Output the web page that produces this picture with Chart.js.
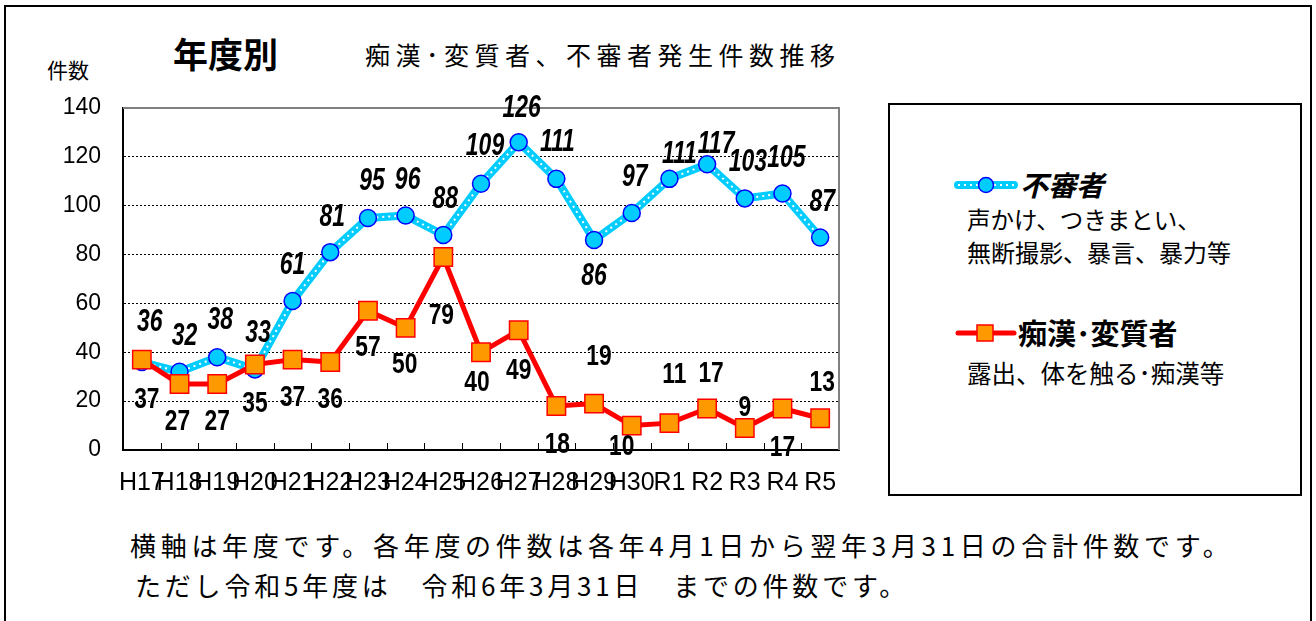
<!DOCTYPE html>
<html lang="ja">
<head>
<meta charset="utf-8">
<script src="https://cdn.jsdelivr.net/npm/chart.js@4.4.1/dist/chart.umd.min.js"></script>
<style>
  body { margin: 0; background: #fff; width: 1316px; height: 621px; overflow: hidden; position: relative;
         font-family: "Noto Sans CJK JP", sans-serif; color: #000; }
  .frame { position: absolute; left: 4px; top: 5px; width: 1308px; height: 700px; border: 2px solid #000; box-sizing: border-box; }
  .txt { position: absolute; white-space: nowrap; line-height: 1; }
  #wrap { position: absolute; left: 0; top: 0; width: 860px; height: 520px; }
  .legend { position: absolute; left: 888px; top: 103px; width: 414px; height: 393px; border: 2px solid #000; box-sizing: border-box; }
</style>
</head>
<body>
<div class="frame"></div>
<div class="txt" style="left:47px;top:59px;font-size:21px;">件数</div>
<div class="txt" style="left:173px;top:35px;font-size:35px;font-weight:bold;">年度別</div>
<div class="txt" style="left:365px;top:42px;font-size:25px;letter-spacing:5.5px;">痴漢･変質者、不審者発生件数推移</div>

<div id="wrap"><canvas id="chart"></canvas></div>

<div class="legend"></div>
<svg style="position:absolute;left:950px;top:170px" width="70" height="30">
  <line x1="8" y1="15" x2="64" y2="15" stroke="#00CCFF" stroke-width="8" stroke-linecap="round"/>
  <line x1="8" y1="15" x2="64" y2="15" stroke="#fff" stroke-width="2" stroke-dasharray="2 4"/>
  <circle cx="36" cy="15" r="7.5" fill="#00CCFF" stroke="#0000FF" stroke-width="1.5"/>
</svg>
<div class="txt" style="left:1020px;top:170px;font-size:28px;font-weight:bold;font-style:italic;">不審者</div>
<div class="txt" style="left:967px;top:208px;font-size:23.5px;">声かけ、つきまとい、</div>
<div class="txt" style="left:967px;top:240px;font-size:24px;">無断撮影、暴言、暴力等</div>
<svg style="position:absolute;left:950px;top:318px" width="70" height="30">
  <line x1="8" y1="15" x2="64" y2="15" stroke="#FF0000" stroke-width="5" stroke-linecap="round"/>
  <rect x="27" y="7" width="16" height="16" fill="#FF9900" stroke="#FF0000" stroke-width="1.5"/>
</svg>
<div class="txt" style="left:1018px;top:318px;font-size:29px;font-weight:bold;">痴漢･変質者</div>
<div class="txt" style="left:967px;top:361px;font-size:24.5px;">露出、体を触る･痴漢等</div>

<div class="txt" style="left:130px;top:532px;font-size:26px;letter-spacing:4.7px;">横軸は年度です。各年度の件数は各年4月1日から翌年3月31日の合計件数です。</div>
<div class="txt" style="left:135px;top:572px;font-size:26px;letter-spacing:3.8px;">ただし令和5年度は　令和6年3月31日　までの件数です。</div>

<script>
// 年度
const nendo = ["H17", "H18", "H19", "H20", "H21", "H22", "H23", "H24", "H25", "H26",
  "H27", "H28", "H29", "H30", "R1", "R2", "R3", "R4", "R5"];
// 不審者
const fushinsha = [36, 32, 38, 33, 61, 81, 95, 96, 88, 109, 126, 111, 86, 97, 111, 117, 103, 105, 87];
// 痴漢・変質者
const chikan = [37, 27, 27, 35, 37, 36, 57, 50, 79, 40, 49, 18, 19, 10, 11, 17, 9, 17, 13];
const yTicks = [0, 20, 40, 60, 80, 100, 120, 140];

// ラベルの位置（点からのずれ px）
const fuLabelDx = [8, 5, 3, 3, 0, 2, 4, 2, 2, 4, 3, 1, 0, 3, 10, 9, 3, 4, 2];
const fuLabelDy = [-40, -35, -37, -36, -36, -35, -36, -35, -36, -37, -34, -36, 37, -36, -24, -20, -36, -35, -35];
const chLabelDx = [5, -2, 0, 0, 0, 0, 0, -1, -2, -4, 0, 1, 5, -10, 5, 4, 0, 0, 2];
const chLabelDy = [40, 38, 38, 39, 38, 38, 37, 37, 59, 30, 40, 39, -47, 21, -48, -35, -20, 39, -36];

const CYAN = "#00CCFF";

// 横に縮めた文字
function narrowText(ctx, s, x, y, sx) {
  ctx.save();
  ctx.translate(x, y);
  ctx.scale(sx, 1);
  ctx.fillText(s, 0, 0);
  ctx.restore();
}

// 枠線・目盛・数値ラベル
const decoPlugin = {
  id: "deco",
  beforeDatasetsDraw(chart) {
    const { ctx, chartArea: a } = chart;
    ctx.save();
    ctx.strokeStyle = "#808080";
    ctx.lineWidth = 2;
    ctx.beginPath();
    ctx.moveTo(a.left, a.top);
    ctx.lineTo(a.right, a.top);
    ctx.lineTo(a.right, a.bottom);
    ctx.stroke();
    // 内向きの目盛
    const xs = chart.scales.x;
    ctx.strokeStyle = "#000";
    ctx.lineWidth = 1;
    ctx.beginPath();
    for (let i = 1; i < nendo.length; i++) {
      const px = Math.round((xs.getPixelForValue(i - 1) + xs.getPixelForValue(i)) / 2) + 0.5;
      ctx.moveTo(px, a.bottom);
      ctx.lineTo(px, a.bottom - 7);
    }
    ctx.stroke();
    ctx.restore();
  },
  afterDatasetsDraw(chart) {
    const { ctx } = chart;
    ctx.save();
    ctx.fillStyle = "#000";
    ctx.textAlign = "center";
    ctx.textBaseline = "middle";
    const fuPts = chart.getDatasetMeta(2).data;
    ctx.font = "italic bold 31px 'Liberation Sans', Arial, sans-serif";
    fuPts.forEach((p, i) => narrowText(ctx, String(fushinsha[i]), p.x + fuLabelDx[i], p.y + fuLabelDy[i], 0.74));
    const chPts = chart.getDatasetMeta(3).data;
    ctx.font = "bold 30px 'Liberation Sans', Arial, sans-serif";
    chPts.forEach((p, i) => narrowText(ctx, String(chikan[i]), p.x + chLabelDx[i], p.y + chLabelDy[i], 0.76));
    ctx.restore();
  }
};

new Chart(document.getElementById("chart"), {
  type: "line",
  data: {
    labels: nendo,
    datasets: [
      { label: "不審者", data: fushinsha, borderColor: CYAN, borderWidth: 8, pointRadius: 0, order: 4, clip: false },
      { label: "不審者点線", data: fushinsha, borderColor: "#fff", borderWidth: 2, borderDash: [2, 4], pointRadius: 0, order: 3, clip: false },
      { label: "不審者点", data: fushinsha, showLine: false, pointStyle: "circle", pointRadius: 8.5,
        pointBackgroundColor: CYAN, pointBorderColor: "#0000FF", pointBorderWidth: 1.5, order: 2, clip: false },
      { label: "痴漢・変質者", data: chikan, borderColor: "#FF0000", borderWidth: 5, pointStyle: "rect", pointRadius: 13,
        pointBackgroundColor: "#FF9900", pointBorderColor: "#FF0000", pointBorderWidth: 1.5, order: 1, clip: false }
    ]
  },
  options: {
    responsive: true,
    maintainAspectRatio: false,
    devicePixelRatio: 1,
    animation: false,
    layout: { padding: { top: 108, right: 21, left: 0, bottom: 0 } },
    plugins: { legend: { display: false }, tooltip: { enabled: false } },
    elements: { line: { tension: 0, borderJoinStyle: "round" } },
    scales: {
      x: {
        offset: true,
        grid: { display: false, drawTicks: false },
        border: { display: true, color: "#000", width: 2 },
        ticks: { color: "#000", padding: 18, autoSkip: false, maxRotation: 0,
          font: { family: "'Liberation Sans', sans-serif", size: 25 } },
        afterFit: s => { s.height = 70; }
      },
      y: {
        min: 0,
        max: 140,
        afterBuildTicks: s => { s.ticks = yTicks.map(v => ({ value: v })); },
        grid: { color: "#000", lineWidth: 1, drawTicks: false, tickBorderDash: [2, 2] },
        border: { display: true, color: "#000", width: 2, dash: [2, 2] },
        ticks: { color: "#000", padding: 22, font: { family: "'Liberation Sans', sans-serif", size: 23 } },
        afterFit: s => { s.width = 123; }
      }
    }
  },
  plugins: [decoPlugin]
});
</script>
</body>
</html>
